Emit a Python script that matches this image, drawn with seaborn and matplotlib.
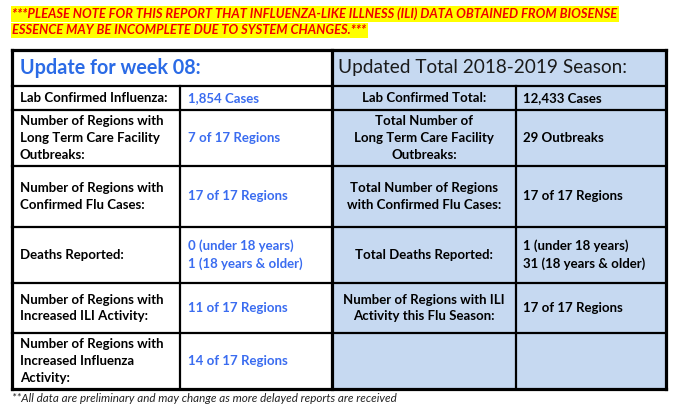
import numpy as np
import pandas as pd
import matplotlib
matplotlib.use("Agg")
import matplotlib.pyplot as plt
from matplotlib.patches import Rectangle
import seaborn as sns

sns.set_theme(style="white")
plt.rcParams['font.family'] = ['Lato', 'DejaVu Sans']

# ---------------- data ----------------
banner_lines = [
    "***PLEASE NOTE FOR THIS REPORT THAT INFLUENZA-LIKE ILLNESS (ILI) DATA OBTAINED FROM BIOSENSE",
    "ESSENCE MAY BE INCOMPLETE DUE TO SYSTEM CHANGES.***",
]
week_title = "Update for week 08:"
season_title = "Updated Total 2018-2019 Season:"

week_labels = [
    "Lab Confirmed Influenza:",
    "Number of Regions with\nLong Term Care Facility\nOutbreaks:",
    "Number of Regions with\nConfirmed Flu Cases:",
    "Deaths Reported:",
    "Number of Regions with\nIncreased ILI Activity:",
    "Number of Regions with\nIncreased Influenza\nActivity:",
]
week_values = [
    "1,854 Cases",
    "7 of 17 Regions",
    "17 of 17 Regions",
    "0 (under 18 years)\n1 (18 years & older)",
    "11 of 17 Regions",
    "14 of 17 Regions",
]
season_labels = [
    "Lab Confirmed Total:",
    "Total Number of\nLong Term Care Facility\nOutbreaks:",
    "Total Number of Regions\nwith Confirmed Flu Cases:",
    "Total Deaths Reported:",
    "Number of Regions with ILI\nActivity this Flu Season:",
    "",
]
season_values = [
    "12,433 Cases",
    "29 Outbreaks",
    "17 of 17 Regions",
    "1 (under 18 years)\n31 (18 years & older)",
    "17 of 17 Regions",
    "",
]
footnote = "**All data are preliminary and may change as more delayed reports are received"

# ---------------- layout (pixel grid) ----------------
col_edges = [12, 180, 332, 516, 666]
row_edges = [50, 86, 110, 166, 227, 283, 333, 389]

blue_txt = "#3A6CF0"
title_blue = "#2B6BE6"
fill_blue = "#C6D9F1"

fig = plt.figure(figsize=(6.79, 4.08), dpi=100)
ax = fig.add_axes([0, 0, 1, 1])
ax.set_xlim(0, 679)
ax.set_ylim(408, 0)
ax.axis("off")

# banner with yellow highlight
for i, line in enumerate(banner_lines):
    ax.text(12, 14 + i * 16.5, line, color="#F00000", fontsize=9.3,
            fontweight="bold", fontstyle="italic", va="center", ha="left",
            bbox=dict(facecolor="#FFFF00", edgecolor="none", pad=1.0))

# right half light-blue fill
ax.add_patch(Rectangle((col_edges[2], row_edges[0]), col_edges[4] - col_edges[2],
                       row_edges[-1] - row_edges[0], facecolor=fill_blue,
                       edgecolor="none", zorder=0))

thick = 2.3
thin = 1.6

# horizontal lines
for j, y in enumerate(row_edges):
    lw = thick if j in (0, len(row_edges) - 1) else thin
    ax.plot([col_edges[0], col_edges[4]], [y, y], color="black", lw=lw,
            solid_capstyle="projecting", zorder=3)
# vertical lines
for k, x in enumerate(col_edges):
    y0 = row_edges[0] if k in (0, 2, 4) else row_edges[1]
    lw = thick if k in (0, 2, 4) else thin
    ax.plot([x, x], [y0, row_edges[-1]], color="black", lw=lw,
            solid_capstyle="projecting", zorder=3)

# header titles
hy = (row_edges[0] + row_edges[1]) / 2
ax.text(20, hy, week_title, color=title_blue, fontsize=14.2, fontweight="bold",
        va="center", ha="left")
ax.text(338, hy, season_title, color="#1A1A1A", fontsize=13.7,
        va="center", ha="left")

fs = 9.5
ls = 1.5
for i in range(len(week_labels)):
    cy = (row_edges[i + 1] + row_edges[i + 2]) / 2
    ax.text(20, cy, week_labels[i], fontsize=fs, fontweight="bold",
            color="black", va="center", ha="left", linespacing=ls)
    ax.text(188, cy, week_values[i], fontsize=fs, fontweight="bold",
            color=blue_txt, va="center", ha="left", linespacing=ls)
    ax.text((col_edges[2] + col_edges[3]) / 2, cy, season_labels[i], fontsize=fs,
            fontweight="bold", color="black", va="center", ha="center",
            multialignment="center", linespacing=ls)
    ax.text(523, cy, season_values[i], fontsize=fs, fontweight="bold",
            color="black", va="center", ha="left", linespacing=ls)

ax.text(12, 398, footnote, fontsize=8.4, fontstyle="italic", color="#222222",
        va="center", ha="left")

fig.savefig("out.png", dpi=100)
